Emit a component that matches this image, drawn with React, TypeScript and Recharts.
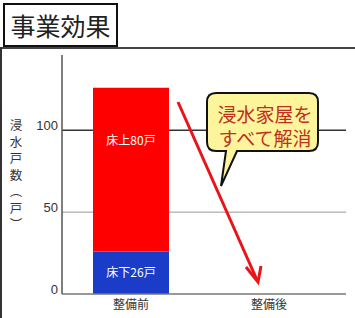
import React from 'react';
import {
  BarChart,
  Bar,
  XAxis,
  YAxis,
  CartesianGrid,
  LabelList
} from 'recharts';

const categories = ['整備前', '整備後'];
const belowFloor = [26, 0];
const aboveFloor = [100, 0];
const belowLabels = ['床下26戸', ''];
const aboveLabels = ['床上80戸', ''];
const yTicks = [0, 50, 100];
const yTitle = ['浸', '水', '戸', '数', '︵', '戸', '︶'];
const calloutLines = ['浸水家屋を', 'すべて解消'];

const data = categories.map((name, i) => ({
  name,
  below: belowFloor[i],
  above: aboveFloor[i],
  belowLabel: belowLabels[i],
  aboveLabel: aboveLabels[i]
}));

const JP = '"Noto Sans CJK JP", "Noto Sans", sans-serif';

const YTick = (props: any) => {
  const { x, y, payload } = props;
  return (
    <text x={x} y={y - 5} dy="0.35em" textAnchor="end" fontSize={13} fill="#333" fontFamily="Arial, Liberation Sans, sans-serif">
      {payload.value}
    </text>
  );
};

const XTick = (props: any) => {
  const { x, y, payload } = props;
  return (
    <text x={x} y={y + 13} textAnchor="middle" fontSize={12} fill="#333" fontFamily={JP}>
      {payload.value}
    </text>
  );
};

// vertical axis title, one glyph per line
const YTitle = () => (
  <g>
    {yTitle.map((c, i) => (
      <text key={i} x={16} y={130 + i * 16.5} textAnchor="middle" fontSize={12.5} fill="#333" fontFamily={JP}>
        {c}
      </text>
    ))}
  </g>
);

const TopLabel = (props: any) => {
  const { x, y, width, value } = props;
  if (!value) return null;
  return (
    <text x={x + width / 2} y={y + 57} textAnchor="middle" fontSize={12} fill="#fff" fontFamily={JP}>
      {value}
    </text>
  );
};

const CenterLabel = (props: any) => {
  const { x, y, width, height, value } = props;
  if (!value) return null;
  return (
    <text x={x + width / 2} y={y + height / 2 + 4} textAnchor="middle" fontSize={12} fill="#fff" fontFamily={JP}>
      {value}
    </text>
  );
};

const Annotation = () => (
  <svg width={355} height={318} style={{ position: 'absolute', left: 0, top: 0, pointerEvents: 'none' }}>
    <line x1={178} y1={102} x2={257} y2={280} stroke="#E8141A" strokeWidth={3} />
    <polyline points="246,267 258,282 261,266" fill="none" stroke="#E8141A" strokeWidth={3} strokeLinejoin="miter" />
    <path
      d="M216,93 H309 Q318,93 318,102 V142 Q318,151 309,151 H237 L221,186 L226,151 H216 Q207,151 207,142 V102 Q207,93 216,93 Z"
      fill="#FDF59C"
      stroke="#111"
      strokeWidth={2}
    />
    {calloutLines.map((t, i) => (
      <text key={i} x={265} y={122 + i * 24} textAnchor="middle" fontSize={19} fill="#C0301E" fontFamily={JP}>
        {t}
      </text>
    ))}
  </svg>
);

export default function App() {
  return (
    <div style={{ position: 'absolute', left: 0, top: 0, width: 355, height: 318, background: '#fff' }}>
      <div style={{ position: 'absolute', left: 0, top: 47, width: 355, height: 2, background: '#444' }} />
      <div style={{ position: 'absolute', left: 0, top: 47, width: 2, height: 271, background: '#333' }} />
      <div
        style={{
          position: 'absolute', left: 3, top: 3, width: 111, height: 40, border: '2px solid #111',
          background: '#fff', fontFamily: JP, fontSize: 25, color: '#222', lineHeight: '40px', textAlign: 'center'
        }}
      >
        事業効果
      </div>
      <div style={{ position: 'absolute', left: 0, top: 0 }}>
        <BarChart width={355} height={318} data={data} margin={{ top: 55, right: 9, bottom: 0, left: 0 }} barSize={76}>
          <CartesianGrid vertical={false} horizontalValues={[50]} stroke="#999" />
          <CartesianGrid vertical={false} horizontalValues={[100]} stroke="#333" strokeWidth={1.5} />
          <XAxis dataKey="name" height={24} tickLine={false} tickSize={0} axisLine={{ stroke: '#777', strokeWidth: 1.5 }} padding={{ left: 0, right: 8 }} tick={<XTick />} />
          <XAxis xAxisId="top" dataKey="name" orientation="top" height={0} tick={false} tickLine={false} axisLine={{ stroke: '#ccc' }} />
          <YAxis width={62} domain={[0, 146]} ticks={yTicks} tickLine={false} tickSize={0} tickMargin={4} axisLine={{ stroke: '#555', strokeWidth: 1.5 }} tick={<YTick />} label={<YTitle />} />
          <YAxis yAxisId="right" orientation="right" width={0} tick={false} tickLine={false} axisLine={{ stroke: '#444', strokeWidth: 2 }} />
          <Bar dataKey="below" stackId="a" fill="#1A3CC8" isAnimationActive={false}>
            <LabelList dataKey="belowLabel" content={<CenterLabel />} />
          </Bar>
          <Bar dataKey="above" stackId="a" fill="#FF0000" isAnimationActive={false}>
            <LabelList dataKey="aboveLabel" content={<TopLabel />} />
          </Bar>
        </BarChart>
      </div>
      <Annotation />
    </div>
  );
}
